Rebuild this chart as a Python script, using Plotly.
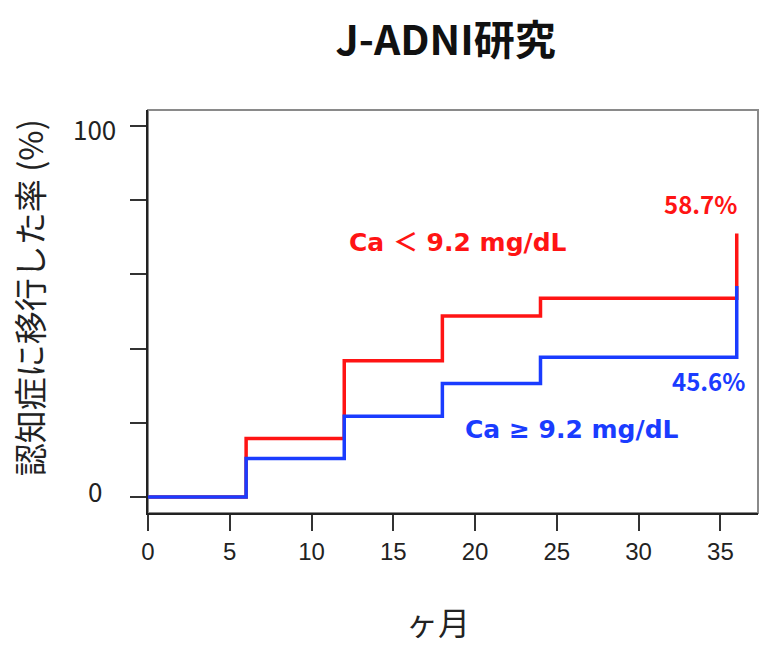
import plotly.graph_objects as go

# Data (months, cumulative conversion %)
months = [0, 6, 12, 18, 24, 36]
red_vals = [0, 15.8, 36.7, 48.8, 53.6, 71.0]   # Ca < 9.2 mg/dL
blue_vals = [0, 10.4, 21.8, 30.6, 37.7, 56.9]  # Ca >= 9.2 mg/dL
x_ticks = [0, 5, 10, 15, 20, 25, 30, 35]
y_ticks = [0, 20, 40, 60, 80, 100]
y_tick_labels = {0: "0", 100: "100"}

RED = "#ff1414"
BLUE = "#1a3cff"
JP = "Noto Sans CJK JP"
LAT = "DejaVu Sans, Noto Sans CJK JP"

fig = go.Figure()
fig.add_trace(go.Scatter(x=months, y=red_vals, mode="lines", line=dict(color=RED, width=3.5, shape="hv"),
                         showlegend=False, hoverinfo="skip"))
fig.add_trace(go.Scatter(x=months, y=blue_vals, mode="lines", line=dict(color=BLUE, width=3.5, shape="hv"),
                         showlegend=False, hoverinfo="skip"))

fig.update_layout(
    width=779, height=670,
    margin=dict(l=148, r=21, t=110, b=157),
    paper_bgcolor="white", plot_bgcolor="white",
    showlegend=False,
    title=dict(text="<b>J-ADNI研究</b>", x=0.572, xanchor="center", y=0.94, yanchor="middle",
               font=dict(family=JP, size=41, color="#111")),
)
fig.update_xaxes(range=[0, 37.3], tickvals=x_ticks, ticks="outside", ticklen=16, tickwidth=2, tickcolor="#333",
                 showline=True, linecolor="#222", linewidth=2, showgrid=False, zeroline=False,
                 tickfont=dict(family="Liberation Sans, Arial", size=24, color="#222"))
fig.update_yaxes(range=[-4.3, 104.3], tickvals=y_ticks, ticks="outside", ticklen=16, tickwidth=2, tickcolor="#333",
                 showline=True, linecolor="#222", linewidth=2, showgrid=False, zeroline=False,
                 showticklabels=False)

fig.add_shape(type="rect", xref="paper", yref="paper", x0=0, x1=1, y0=0, y1=1,
              line=dict(color="#8a8a8a", width=2), layer="below")

for v, t in y_tick_labels.items():
    fig.add_annotation(x=-0.087, xref="paper", y=v, yref="y", text=t, showarrow=False,
                       yshift=(7 if v == 0 else -3),
                       xanchor="center", yanchor="middle", font=dict(family=JP, size=26, color="#222"))

fig.add_annotation(x=-0.195, xref="paper", y=0.533, yref="paper", text="認知症に移行した率 (%)", textangle=-90,
                   showarrow=False, xanchor="center", yanchor="middle", font=dict(family=JP, size=33, color="#222"))
fig.add_annotation(x=0.475, xref="paper", y=-0.268, yref="paper", text="ヶ月", showarrow=False,
                   xanchor="center", yanchor="middle", font=dict(family=JP, size=32, color="#222"))

fig.add_annotation(x=33.8, y=79.2, text="<b>58.7%</b>", showarrow=False, xanchor="center", yanchor="middle",
                   font=dict(family=JP, size=24, color=RED))
fig.add_annotation(x=18.97, y=68.5, text="<b>Ca ＜ 9.2 mg/dL</b>", showarrow=False, xanchor="center", yanchor="middle",
                   font=dict(family=LAT, size=25, color=RED))
fig.add_annotation(x=34.3, y=31.5, text="<b>45.6%</b>", showarrow=False, xanchor="center", yanchor="middle",
                   font=dict(family=JP, size=24, color=BLUE))
fig.add_annotation(x=25.95, y=18.1, text="<b>Ca ≥ 9.2 mg/dL</b>", showarrow=False, xanchor="center", yanchor="middle",
                   font=dict(family=LAT, size=25, color=BLUE))

fig.write_html("out.html")
